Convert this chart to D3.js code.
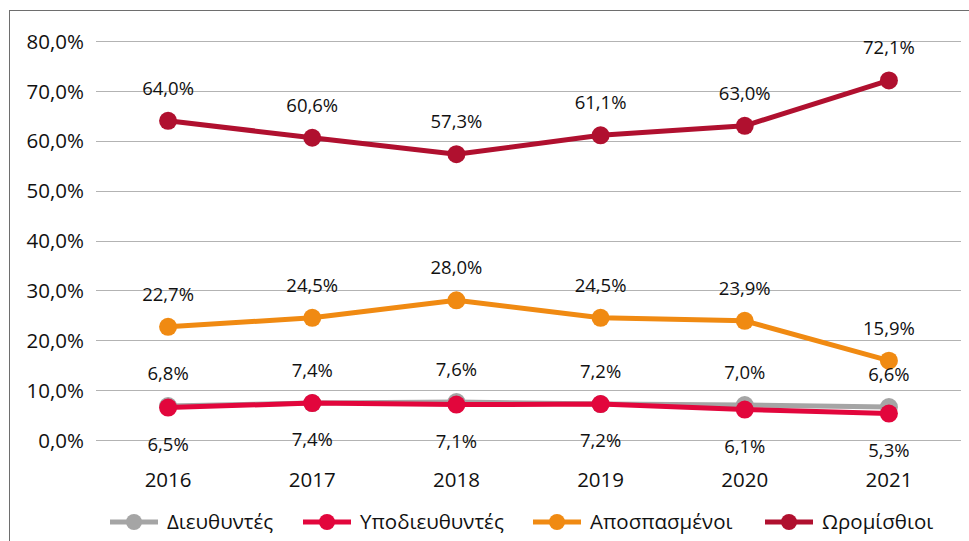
<!DOCTYPE html>
<html>
<head>
<meta charset="utf-8">
<script src="https://cdn.jsdelivr.net/npm/d3@7"></script>
<style>
  body { margin: 0; background: #fff; }
  svg text { font-family: "Open Sans", "Noto Sans", sans-serif; fill: #111; }
</style>
</head>
<body>
<div id="chart"></div>
<script>
const years = ["2016", "2017", "2018", "2019", "2020", "2021"];
const yTicks = [0, 10, 20, 30, 40, 50, 60, 70, 80];

const diefthyntes = [6.8, 7.4, 7.6, 7.2, 7.0, 6.6];
const ypodiefthyntes = [6.5, 7.4, 7.1, 7.2, 6.1, 5.3];
const apospasmenoi = [22.7, 24.5, 28.0, 24.5, 23.9, 15.9];
const oromisthioi = [64.0, 60.6, 57.3, 61.1, 63.0, 72.1];

const seriesNames = ["Διευθυντές", "Υποδιευθυντές", "Αποσπασμένοι", "Ωρομίσθιοι"];
const seriesColors = ["#a5a5a5", "#e2063c", "#f08a12", "#b0102f"];

// draw order: gray first, then pink over it
const series = [
  { name: seriesNames[0], values: diefthyntes, color: seriesColors[0], labelPos: "above" },
  { name: seriesNames[1], values: ypodiefthyntes, color: seriesColors[1], labelPos: "below" },
  { name: seriesNames[2], values: apospasmenoi, color: seriesColors[2], labelPos: "above" },
  { name: seriesNames[3], values: oromisthioi, color: seriesColors[3], labelPos: "above" }
];

const W = 969, H = 541;
const svg = d3.select("#chart").append("svg").attr("width", W).attr("height", H);

// outer frame
svg.append("rect")
  .attr("x", 9.5).attr("y", 10.5)
  .attr("width", W + 20).attr("height", H + 20)
  .attr("fill", "none").attr("stroke", "#6e6e6e").attr("stroke-width", 1);

const x = d3.scaleBand().domain(years).range([96, 961]);
const y = d3.scaleLinear().domain([0, 80]).range([440, 41]);

const fmt = v => d3.format(".1f")(v).replace(".", ",") + "%";

// gridlines
svg.append("g").selectAll("line")
  .data(yTicks)
  .enter().append("line")
  .attr("x1", 96).attr("x2", 961)
  .attr("y1", d => Math.round(y(d)) + 0.5)
  .attr("y2", d => Math.round(y(d)) + 0.5)
  .attr("stroke", "#b3b3b3").attr("stroke-width", 1.2);

// y axis labels
const yAxis = d3.axisLeft(y).tickValues(yTicks).tickSize(0).tickPadding(0).tickFormat(fmt);
const gy = svg.append("g").attr("transform", "translate(84,0)").call(yAxis);
gy.select(".domain").remove();
gy.selectAll("text").attr("font-size", 20.5).attr("dy", "0.35em").style("font-family", null);

// x axis labels
const xAxis = d3.axisBottom(x).tickSize(0).tickPadding(0);
const gx = svg.append("g").attr("transform", "translate(0,480)").call(xAxis);
gx.select(".domain").remove();
gx.selectAll("text").attr("font-size", 20.5).attr("dy", "0.35em").style("font-family", null);

const cx = d => x(d) + x.bandwidth() / 2;
const line = d3.line().x((d, i) => cx(years[i])).y(d => y(d));

series.forEach(s => {
  const g = svg.append("g");
  g.append("path")
    .datum(s.values)
    .attr("d", line)
    .attr("fill", "none")
    .attr("stroke", s.color)
    .attr("stroke-width", 5)
    .attr("stroke-linejoin", "round");
  g.selectAll("circle")
    .data(s.values)
    .enter().append("circle")
    .attr("cx", (d, i) => cx(years[i]))
    .attr("cy", d => y(d))
    .attr("r", 9)
    .attr("fill", s.color);
});

// data labels
series.forEach(s => {
  svg.append("g").selectAll("text")
    .data(s.values)
    .enter().append("text")
    .attr("x", (d, i) => cx(years[i]))
    .attr("y", d => s.labelPos === "above" ? y(d) - 26 : y(d) + 43)
    .attr("text-anchor", "middle")
    .attr("font-size", 18.5)
    .text(fmt);
});

// legend
const legendX = [110, 303, 533, 765];
const lg = svg.append("g").attr("transform", "translate(0,522)");
series.forEach((s, i) => {
  const g = lg.append("g").attr("transform", `translate(${legendX[i]},0)`);
  g.append("line").attr("x1", 0).attr("x2", 48).attr("y1", 0).attr("y2", 0)
    .attr("stroke", s.color).attr("stroke-width", 5);
  g.append("circle").attr("cx", 24).attr("cy", 0).attr("r", 8).attr("fill", s.color);
  g.append("text").attr("x", 57).attr("y", 0).attr("dy", "0.35em")
    .attr("font-size", 20.5).text(s.name);
});
</script>
</body>
</html>
